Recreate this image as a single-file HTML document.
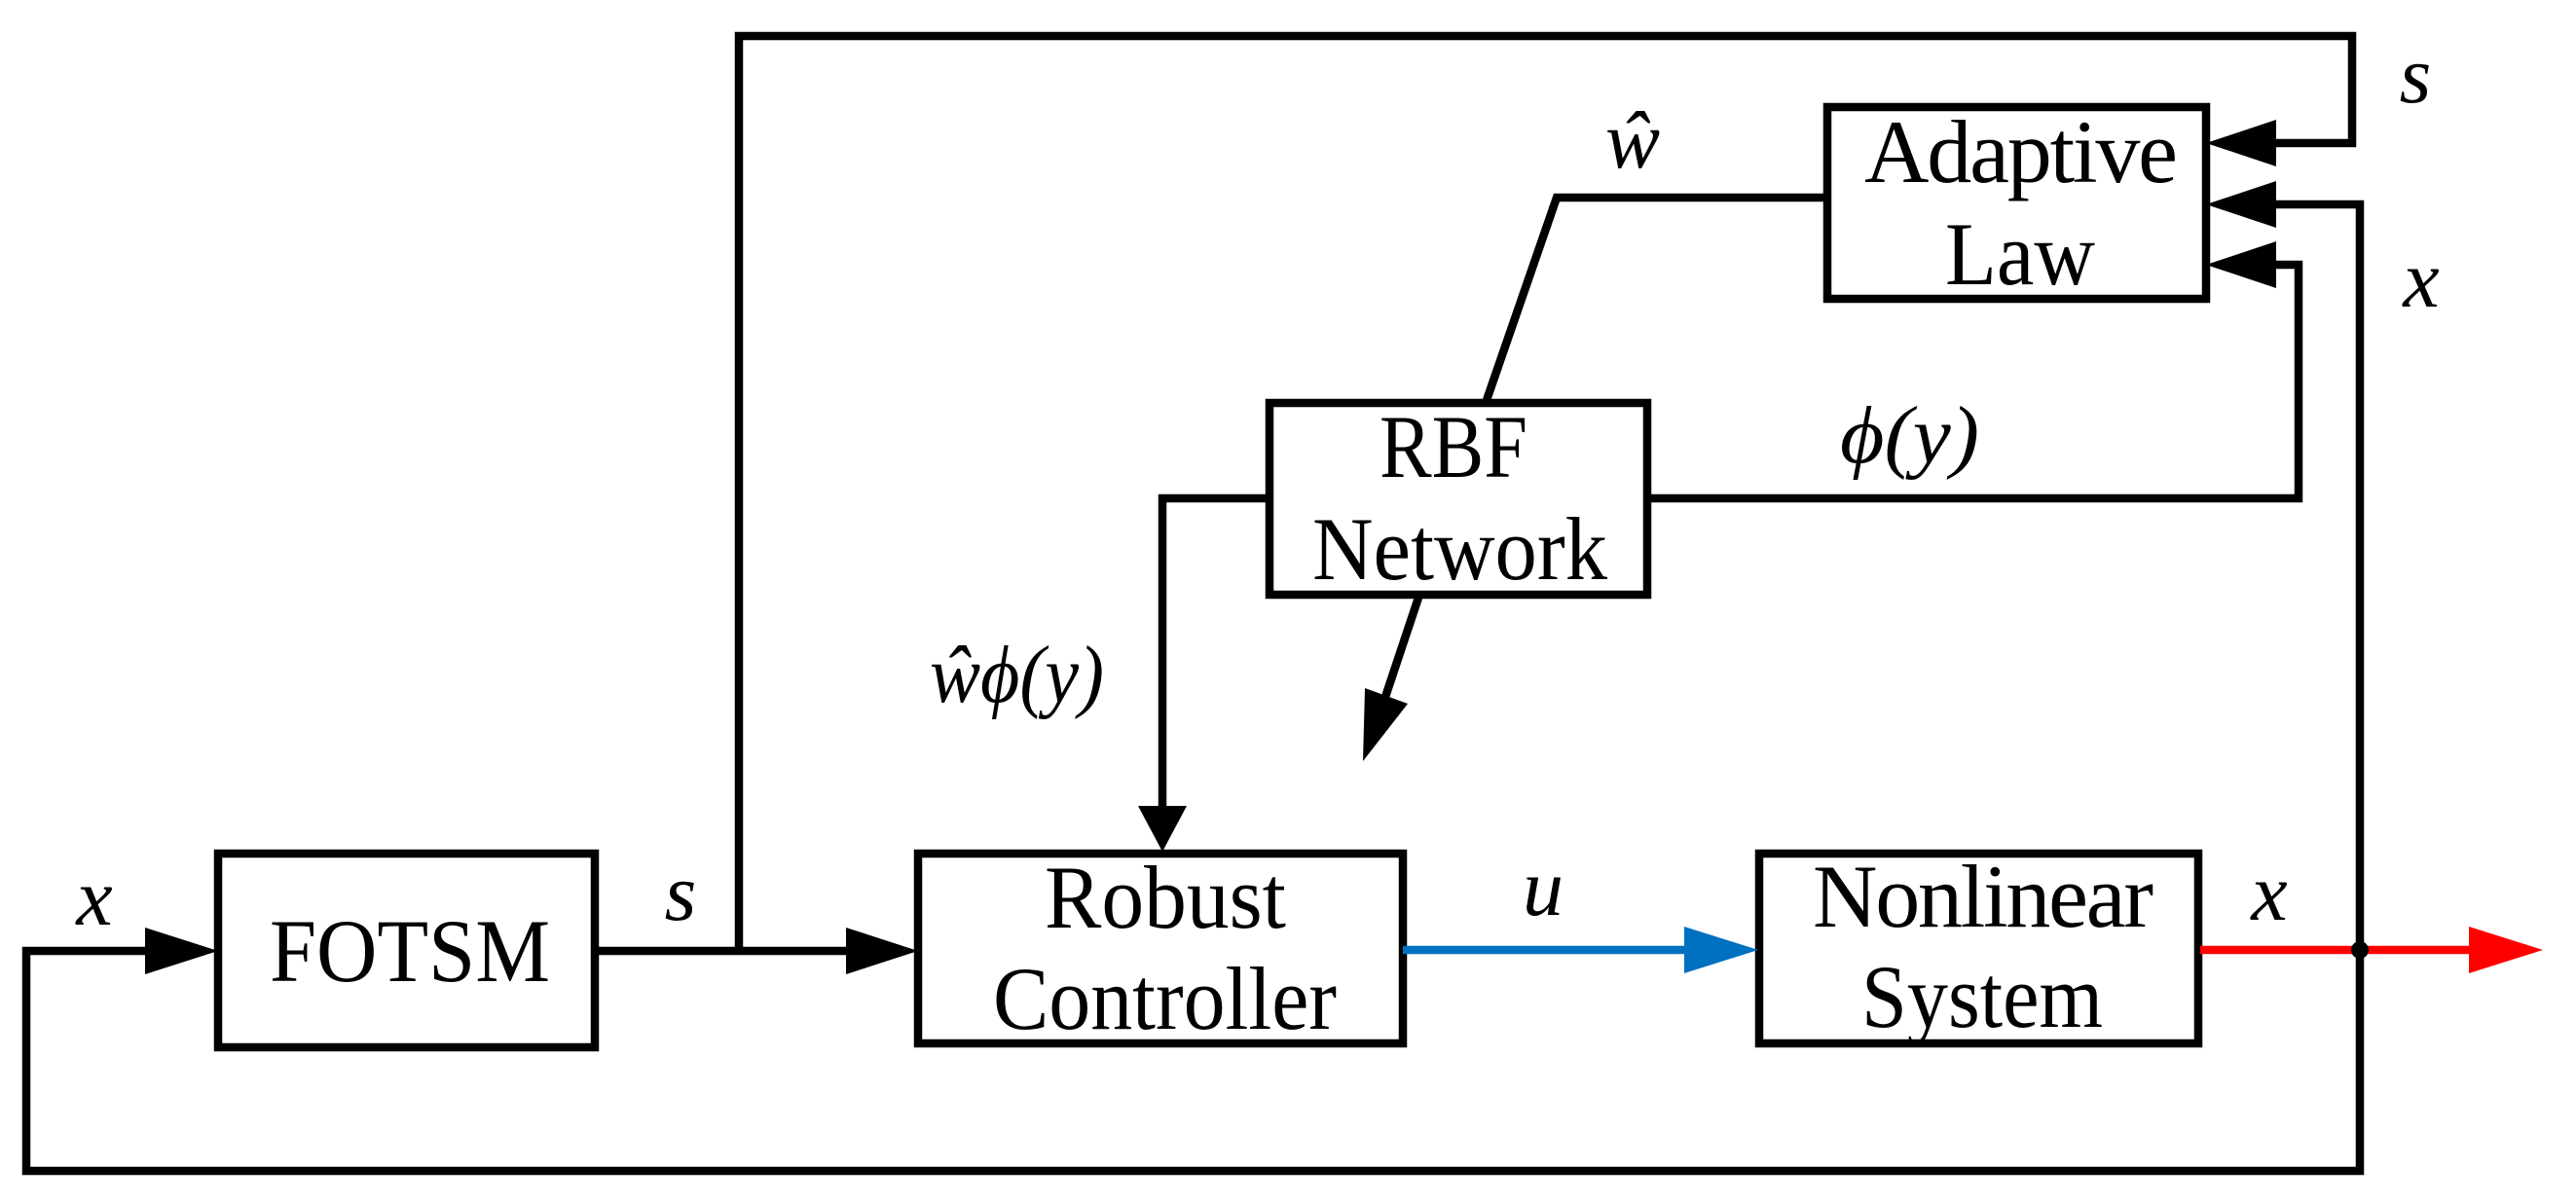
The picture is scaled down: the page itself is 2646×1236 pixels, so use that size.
<!DOCTYPE html>
<html><head><style>html,body{margin:0;padding:0;background:#fff}svg{display:block}</style></head>
<body>
<svg width="2646" height="1236" viewBox="0 0 2646 1236" xmlns="http://www.w3.org/2000/svg" font-family="Liberation Serif, serif">
<g fill="none" stroke="#000" stroke-width="8.5">
<rect x="224" y="877" width="387" height="199"/>
<rect x="943" y="877" width="498" height="195"/>
<rect x="1304" y="414" width="388" height="197"/>
<rect x="1877" y="110" width="389" height="197"/>
<rect x="1807" y="877" width="451" height="195"/>
<polyline points="149,977 27,977 27,1203 2424,1203 2424,210 2338,210"/>
<polyline points="611,977 869,977"/>
<polyline points="759,977 759,37 2416,37 2416,147 2338,147"/>
<polyline points="1877,203 1599,203 1526,414"/>
<polyline points="1692,512 2361,512 2361,272 2338,272"/>
<polyline points="1304,512 1194,512 1194,830"/>
<polyline points="1457,614 1420,725"/>
</g>
<line x1="1441" y1="976" x2="1735" y2="976" stroke="#0070c0" stroke-width="8.5"/>
<line x1="2260" y1="976" x2="2540" y2="976" stroke="#ff0000" stroke-width="8.5"/>
<g fill="#000">
<polygon points="224,977 149,953 149,1001"/>
<polygon points="943,977 869,953 869,1001"/>
<polygon points="1194,875 1169,828 1219,828"/>
<polygon points="2266,147 2338,123 2338,171"/>
<polygon points="2266,210 2338,186 2338,234"/>
<polygon points="2266,272 2338,248 2338,296"/>
<polygon points="1400,782 1402,707 1446,723"/>
<circle cx="2424" cy="976" r="9"/>
</g>
<polygon points="1806,976 1730,952 1730,1000" fill="#0070c0"/>
<polygon points="2612,976 2536,952 2536,1000" fill="#ff0000"/>
<g font-size="92" fill="#000" lengthAdjust="spacingAndGlyphs">
<text x="277" y="1008" textLength="288" lengthAdjust="spacingAndGlyphs">FOTSM</text>
<text x="1073" y="953" textLength="248" lengthAdjust="spacingAndGlyphs">Robust</text>
<text x="1020" y="1057" textLength="353" lengthAdjust="spacingAndGlyphs">Controller</text>
<text x="1417" y="490" textLength="152" lengthAdjust="spacingAndGlyphs">RBF</text>
<text x="1348" y="595" textLength="303" lengthAdjust="spacingAndGlyphs">Network</text>
<text x="1915" y="187" textLength="322" lengthAdjust="spacing">Adaptive</text>
<text x="1998" y="292" textLength="154" lengthAdjust="spacingAndGlyphs">Law</text>
<text x="1862" y="952" textLength="350" lengthAdjust="spacing">Nonlinear</text>
<text x="1912" y="1055" textLength="248" lengthAdjust="spacingAndGlyphs">System</text>
</g>
<g font-size="84" font-style="italic" text-anchor="middle" fill="#000">
<text x="97" y="950">x</text>
<text x="699" y="945">s</text>
<text x="1585" y="940">u</text>
<text x="2331" y="945">x</text>
<text x="2481" y="105">s</text>
<text x="2487" y="315">x</text>
<text x="1677" y="172">ŵ</text>
</g>
<g font-size="84" font-style="italic" fill="#000">
<text x="1890" y="475" textLength="143" lengthAdjust="spacingAndGlyphs">ϕ(y)</text>
<text x="955" y="721" textLength="179" lengthAdjust="spacingAndGlyphs">ŵϕ(y)</text>
</g>
</svg>
</body></html>
